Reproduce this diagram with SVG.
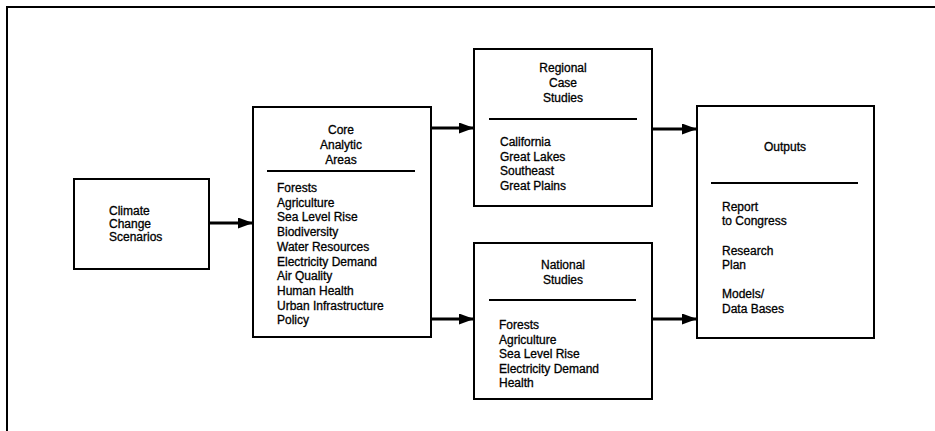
<svg xmlns="http://www.w3.org/2000/svg" width="935" height="431" viewBox="0 0 935 431">
<style>
.box{fill:#fff;stroke:#000;stroke-width:2}
.div{stroke:#000;stroke-width:1.8}
.t{font-family:"Liberation Sans",Arial,sans-serif;font-size:12px;fill:#000;stroke:#000;stroke-width:0.3}
.c{text-anchor:middle}
.con{stroke:#000;stroke-width:3;fill:none}
</style>
<defs>
<marker id="ah" markerUnits="userSpaceOnUse" markerWidth="15" markerHeight="11" refX="15" refY="5.5" orient="auto">
<path d="M0,0 L15,5.5 L0,11 Z" fill="#000"/>
</marker>
</defs>
<rect width="935" height="431" fill="#fff"/>
<g id="frame">
<path d="M7,431 V7 H935" fill="none" stroke="#000" stroke-width="2"/>
</g>
<g id="climate">
<rect class="box" x="74" y="179" width="135" height="90"/>
<text class="t" x="109" y="215">Climate</text>
<text class="t" x="109" y="228">Change</text>
<text class="t" x="109" y="241">Scenarios</text>
</g>
<g id="core">
<rect class="box" x="253" y="107" width="178" height="230"/>
<text class="t c" x="341" y="134">Core</text>
<text class="t c" x="341" y="149">Analytic</text>
<text class="t c" x="341" y="164">Areas</text>
<line class="div" x1="267" y1="171" x2="415" y2="171"/>
<text class="t" x="277" y="192">Forests</text>
<text class="t" x="277" y="206.7">Agriculture</text>
<text class="t" x="277" y="221.4">Sea Level Rise</text>
<text class="t" x="277" y="236.1">Biodiversity</text>
<text class="t" x="277" y="250.8">Water Resources</text>
<text class="t" x="277" y="265.5">Electricity Demand</text>
<text class="t" x="277" y="280.2">Air Quality</text>
<text class="t" x="277" y="294.9">Human Health</text>
<text class="t" x="277" y="309.6">Urban Infrastructure</text>
<text class="t" x="277" y="324.3">Policy</text>
</g>
<g id="regional">
<rect class="box" x="474" y="49" width="178" height="157"/>
<text class="t c" x="563" y="72">Regional</text>
<text class="t c" x="563" y="87">Case</text>
<text class="t c" x="563" y="102">Studies</text>
<line class="div" x1="489" y1="119" x2="637" y2="119"/>
<text class="t" x="500" y="146">California</text>
<text class="t" x="500" y="160.5">Great Lakes</text>
<text class="t" x="500" y="175">Southeast</text>
<text class="t" x="500" y="189.5">Great Plains</text>
</g>
<g id="national">
<rect class="box" x="474" y="243" width="178" height="156"/>
<text class="t c" x="563" y="269">National</text>
<text class="t c" x="563" y="284">Studies</text>
<line class="div" x1="489" y1="300" x2="636" y2="300"/>
<text class="t" x="499" y="329">Forests</text>
<text class="t" x="499" y="343.5">Agriculture</text>
<text class="t" x="499" y="358">Sea Level Rise</text>
<text class="t" x="499" y="372.5">Electricity Demand</text>
<text class="t" x="499" y="387">Health</text>
</g>
<g id="outputs">
<rect class="box" x="697" y="106" width="177" height="232"/>
<text class="t c" x="785" y="151">Outputs</text>
<line class="div" x1="711" y1="183" x2="858" y2="183"/>
<text class="t" x="722" y="211">Report</text>
<text class="t" x="722" y="225">to Congress</text>
<text class="t" x="722" y="255">Research</text>
<text class="t" x="722" y="269">Plan</text>
<text class="t" x="722" y="298">Models/</text>
<text class="t" x="722" y="313">Data Bases</text>
</g>
<g id="connectors">
<line class="con" x1="209" y1="223" x2="253" y2="223" marker-end="url(#ah)"/>
<line class="con" x1="431" y1="128" x2="474" y2="128" marker-end="url(#ah)"/>
<line class="con" x1="431" y1="319" x2="474" y2="319" marker-end="url(#ah)"/>
<line class="con" x1="652" y1="129" x2="697" y2="129" marker-end="url(#ah)"/>
<line class="con" x1="652" y1="319" x2="697" y2="319" marker-end="url(#ah)"/>
</g>
</svg>
